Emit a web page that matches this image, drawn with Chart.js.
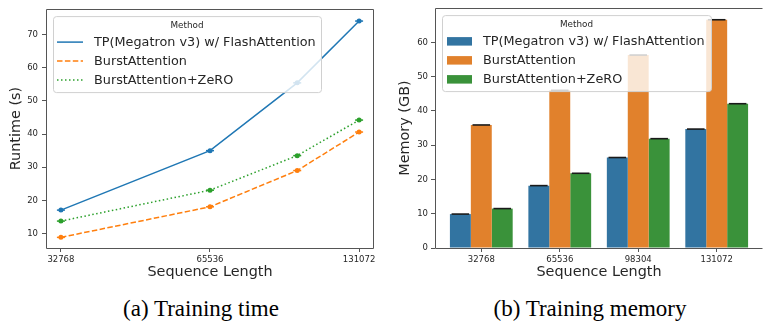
<!DOCTYPE html>
<html>
<head>
<meta charset="utf-8">
<script src="https://cdn.jsdelivr.net/npm/chart.js@4.4.0/dist/chart.umd.min.js"></script>
<style>
  body { margin: 0; background: #fff; width: 763px; height: 324px; position: relative; overflow: hidden; }
  canvas { position: absolute; top: 0; }
  .cap { position: absolute; top: 297px; font: 23px 'Liberation Serif', 'Times New Roman', serif; line-height: 23px; color: #000; text-align: center; width: 300px; white-space: nowrap; }
</style>
</head>
<body>
<canvas id="timeChart" width="380" height="290" style="left:0"></canvas>
<canvas id="memChart" width="378" height="290" style="left:385px"></canvas>
<div class="cap" style="left:51px">(a) Training time</div>
<div class="cap" style="left:440px">(b) Training memory</div>
<script>
// ---- data ----
var methods = ['TP(Megatron v3) w/ FlashAttention', 'BurstAttention', 'BurstAttention+ZeRO'];
var seqLens = [32768, 65536, 98304, 131072];
var timeTicksX = [32768, 65536, 131072];
var timeTicksY = [10, 20, 30, 40, 50, 60, 70];
var runtimeTP = [17.1, 35.0, 55.4, 74.0];
var runtimeBurst = [8.9, 18.1, 29.0, 40.6];
var runtimeZero = [13.8, 23.1, 33.5, 44.2];

var memCats = ['32768', '65536', '98304', '131072'];
var memTicksY = [0, 10, 20, 30, 40, 50, 60];
var memoryTP = [9.9, 18.2, 26.4, 34.7];
var memoryBurst = [35.9, 46.0, 56.3, 66.6];
var memoryZero = [11.5, 21.8, 31.9, 42.1];

var FONT = "'DejaVu Sans', sans-serif";
var TXT = '#262626';
var SPINE = '#555';

function pts(xs, ys) { return xs.map(function (x, i) { return {x: x, y: ys[i]}; }); }

// frame around the plot area
function framePlugin(sides) {
  return {
    id: 'frame',
    afterDraw: function (chart) {
      var a = chart.chartArea, c = chart.ctx;
      c.save();
      c.strokeStyle = SPINE; c.lineWidth = 1;
      c.beginPath();
      var l = Math.round(a.left) + 0.5, r = Math.round(a.right) - 0.5, t = Math.round(a.top) + 0.5, b = Math.round(a.bottom) + 0.5;
      if (sides.indexOf('l') >= 0) { c.moveTo(l, t); c.lineTo(l, b); }
      if (sides.indexOf('b') >= 0) { c.moveTo(l, b); c.lineTo(r, b); }
      if (sides.indexOf('t') >= 0) { c.moveTo(l, t); c.lineTo(r, t); }
      if (sides.indexOf('r') >= 0) { c.moveTo(r, t); c.lineTo(r, b); }
      c.stroke();
      c.restore();
    }
  };
}

// small error caps on marks
var capsPlugin = {
  id: 'caps',
  afterDatasetsDraw: function (chart) {
    var c = chart.ctx;
    c.save();
    chart.data.datasets.forEach(function (ds, i) {
      chart.getDatasetMeta(i).data.forEach(function (el) {
        c.beginPath();
        if (chart.config.type === 'bar') {
          var hw = el.width * 0.42;
          c.strokeStyle = '#1a1a1a'; c.lineWidth = 1.6;
          c.moveTo(el.x - hw, el.y); c.lineTo(el.x + hw, el.y);
        } else {
          c.strokeStyle = ds.borderColor; c.lineWidth = 1.5;
          c.moveTo(el.x - 4, el.y); c.lineTo(el.x + 4, el.y);
        }
        c.stroke();
      });
    });
    c.restore();
  }
};

// legend box drawn above the data
var legendPlugin = {
  id: 'boxLegend',
  afterDraw: function (chart) {
    var a = chart.chartArea, c = chart.ctx;
    var x0 = a.left + 7, y0 = a.top + 7, w = chart.config.type === 'bar' ? 269 : 268, h = 76;
    c.save();
    c.fillStyle = 'rgba(255,255,255,0.8)';
    c.strokeStyle = '#d0d0d0'; c.lineWidth = 1;
    c.beginPath();
    c.roundRect(x0 + 0.5, y0 + 0.5, w, h, 3);
    c.fill(); c.stroke();
    c.fillStyle = TXT;
    c.textBaseline = 'middle';
    c.textAlign = 'center';
    c.font = '8.8px ' + FONT;
    c.fillText('Method', x0 + w / 2, y0 + 10);
    c.textAlign = 'left';
    c.font = '12.8px ' + FONT;
    chart.data.datasets.forEach(function (ds, i) {
      var yy = y0 + 26 + i * 19;
      if (chart.config.type === 'bar') {
        c.fillStyle = ds.backgroundColor;
        c.fillRect(x0 + 5, yy - 4, 25, 8.5);
      } else {
        c.strokeStyle = ds.borderColor; c.lineWidth = 1.5;
        c.setLineDash(ds.borderDash || []);
        c.beginPath(); c.moveTo(x0 + 4, yy); c.lineTo(x0 + 30, yy); c.stroke();
        c.setLineDash([]);
      }
      c.fillStyle = TXT;
      c.fillText(ds.label, x0 + 41, yy + 0.5);
    });
    c.restore();
  }
};

function axisCommon() {
  return {
    grid: { display: true, offset: false, drawOnChartArea: false, drawTicks: true, tickLength: 4, color: SPINE },
    border: { display: false },
    ticks: { color: TXT, font: { family: FONT, size: 8.5 } }
  };
}

// ---- (a) runtime line chart ----
var tx = axisCommon(), ty = axisCommon();
new Chart(document.getElementById('timeChart').getContext('2d'), {
  type: 'line',
  data: {
    datasets: [
      { label: methods[0], data: pts(seqLens, runtimeTP), borderColor: '#1f77b4', backgroundColor: '#1f77b4' },
      { label: methods[1], data: pts(seqLens, runtimeBurst), borderColor: '#ff7f0e', backgroundColor: '#ff7f0e', borderDash: [5.5, 2.4] },
      { label: methods[2], data: pts(seqLens, runtimeZero), borderColor: '#2ca02c', backgroundColor: '#2ca02c', borderDash: [1.5, 2.5] }
    ]
  },
  options: {
    responsive: false, animation: false, devicePixelRatio: 1,
    layout: { padding: { left: 0, right: 6, top: 3, bottom: 0 } },
    elements: { line: { borderWidth: 1.5, tension: 0, fill: false }, point: { radius: 2.5, borderWidth: 0 } },
    plugins: { legend: { display: false }, tooltip: { enabled: false } },
    scales: {
      x: Object.assign(tx, {
        type: 'logarithmic',
        min: Math.pow(2, 14.9), max: Math.pow(2, 17.1),
        afterBuildTicks: function (s) { s.ticks = timeTicksX.map(function (v) { return {value: v}; }); },
        afterFit: function (s) { s.height = 42; },
        ticks: Object.assign(tx.ticks, { padding: 3, maxRotation: 0, autoSkip: false, callback: function (v) { return String(v); } }),
        title: { display: true, text: 'Sequence Length', color: TXT, font: { family: FONT, size: 14.4 }, padding: { top: 0, bottom: 9.4 } }
      }),
      y: Object.assign(ty, {
        type: 'linear',
        min: 5.7, max: 77.6,
        afterBuildTicks: function (s) { s.ticks = timeTicksY.map(function (v) { return {value: v}; }); },
        afterFit: function (s) { s.width = 46; },
        ticks: Object.assign(ty.ticks, { padding: 4 }),
        title: { display: true, text: 'Runtime (s)', color: TXT, font: { family: FONT, size: 14.4 }, padding: { top: 7.4, bottom: 0 } }
      })
    }
  },
  plugins: [capsPlugin, framePlugin('lbtr'), legendPlugin]
});

// ---- (b) memory bar chart ----
var mx = axisCommon(), my = axisCommon();
var idx = memCats.map(function (c, i) { return i; });
new Chart(document.getElementById('memChart').getContext('2d'), {
  type: 'bar',
  data: {
    datasets: [
      { label: methods[0], data: pts(idx, memoryTP), backgroundColor: '#3274a1' },
      { label: methods[1], data: pts(idx, memoryBurst), backgroundColor: '#e1812c' },
      { label: methods[2], data: pts(idx, memoryZero), backgroundColor: '#3a923a' }
    ]
  },
  options: {
    responsive: false, animation: false, devicePixelRatio: 1,
    layout: { padding: { left: 0, right: 0, top: 3, bottom: 0 } },
    datasets: { bar: { categoryPercentage: 0.8, barPercentage: 1.0, borderWidth: 0 } },
    plugins: { legend: { display: false }, tooltip: { enabled: false } },
    scales: {
      x: Object.assign(mx, {
        type: 'linear',
        min: -0.59, max: 3.59, offset: false,
        afterBuildTicks: function (s) { s.ticks = idx.map(function (v) { return {value: v}; }); },
        afterFit: function (s) { s.height = 42; },
        ticks: Object.assign(mx.ticks, { padding: 3, maxRotation: 0, autoSkip: false, callback: function (v) { return memCats[v]; } }),
        title: { display: true, text: 'Sequence Length', color: TXT, font: { family: FONT, size: 14.4 }, padding: { top: 0, bottom: 9.4 } }
      }),
      y: Object.assign(my, {
        type: 'linear',
        min: 0, max: 70.0,
        afterBuildTicks: function (s) { s.ticks = memTicksY.map(function (v) { return {value: v}; }); },
        afterFit: function (s) { s.width = 50; },
        ticks: Object.assign(my.ticks, { padding: 3 }),
        title: { display: true, text: 'Memory (GB)', color: TXT, font: { family: FONT, size: 14.4 }, padding: { top: 11.4, bottom: 0 } }
      })
    }
  },
  plugins: [capsPlugin, framePlugin('lbt'), legendPlugin]
});
</script>
</body>
</html>
